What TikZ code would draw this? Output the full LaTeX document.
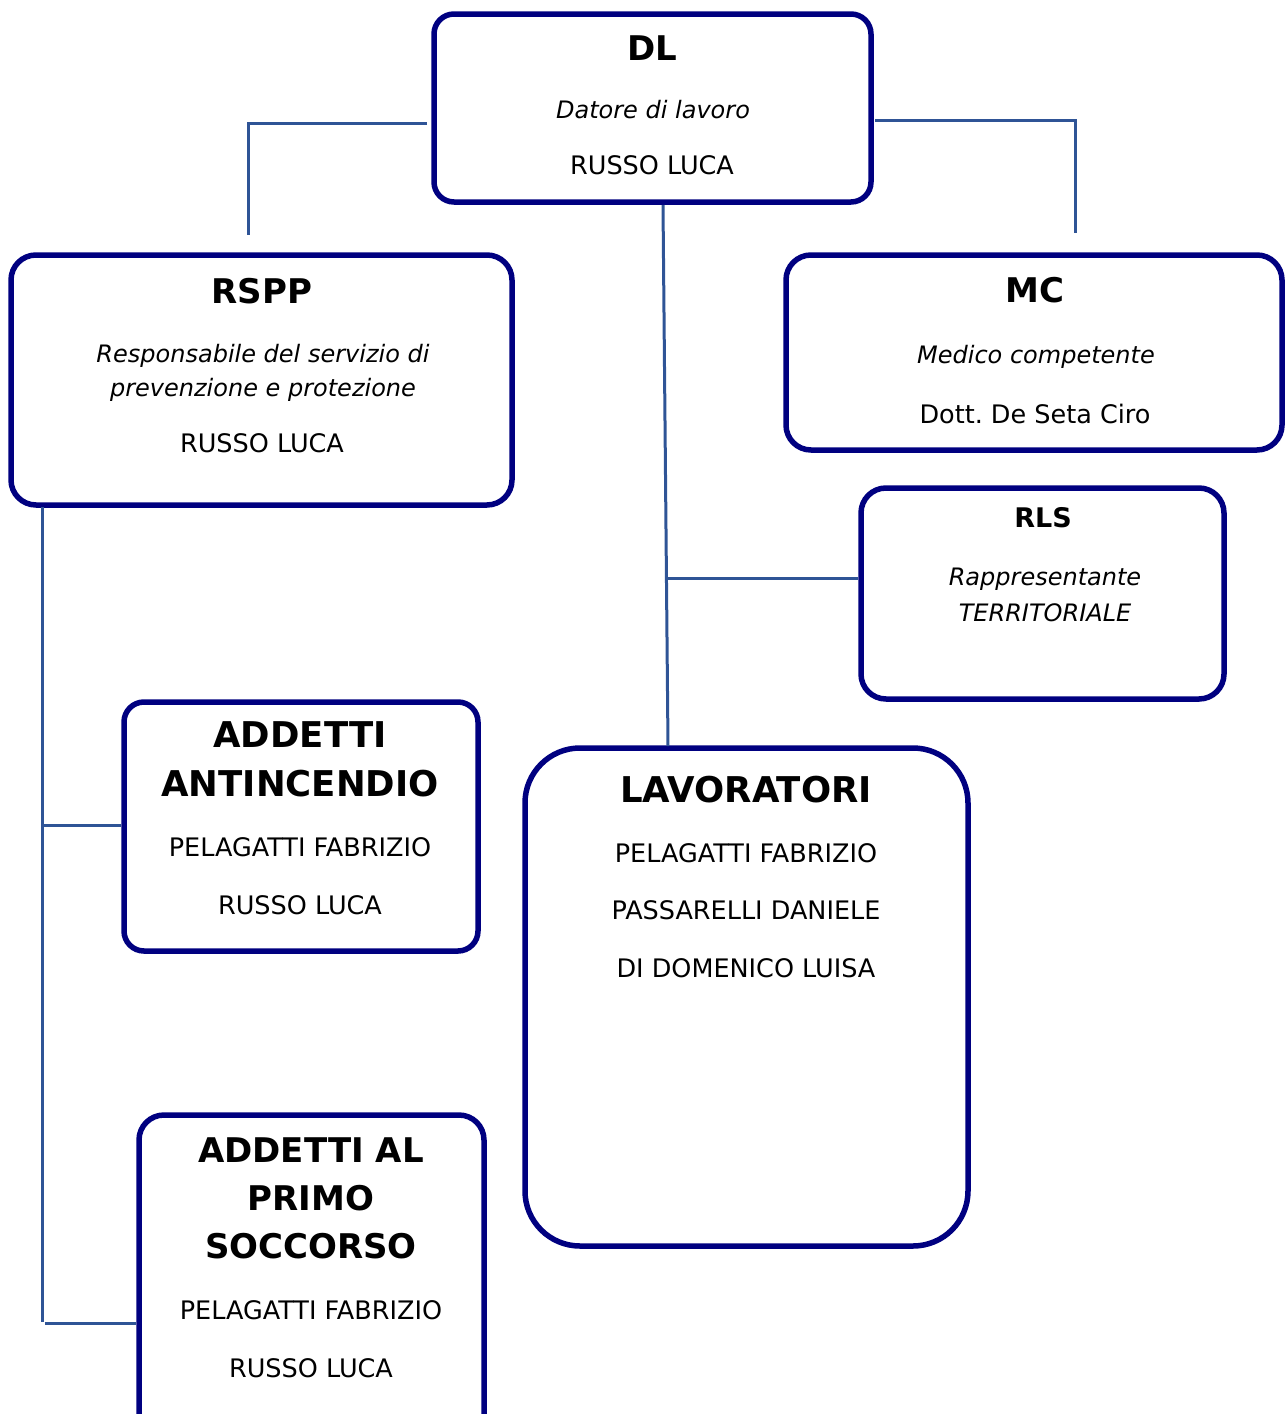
\documentclass[tikz,border=0pt]{standalone}
\usepackage{fontspec}
\setmainfont{DejaVu Sans}
\usetikzlibrary{calc}
\definecolor{boxblue}{RGB}{0,0,128}
\definecolor{linkblue}{RGB}{47,84,150}
\frenchspacing
\tikzset{
  orgbox/.style={draw=boxblue, line width=5.5pt, rounded corners=#1, fill=white, inner sep=0pt},
  orgbox/.default=22pt,
  conn/.style={draw=linkblue, line width=3pt},
  ttl/.style={anchor=base, inner sep=0pt, font=\bfseries\fontsize{34}{40}\selectfont},
  ttlwide/.style={anchor=base, inner sep=0pt, font=\bfseries\fontsize{35.5}{40}\selectfont},
  ttlsmall/.style={anchor=base, inner sep=0pt, font=\bfseries\fontsize{27}{32}\selectfont},
  txt/.style={anchor=base, inner sep=0pt, font=\fontsize{25.5}{29}\selectfont},
  itx/.style={anchor=base, inner sep=0pt, font=\itshape\fontsize{24}{29}\selectfont}
}
\begin{document}
\begin{tikzpicture}[x=1pt,y=-1pt]
\useasboundingbox (0,0) rectangle (1286,1414);
\clip (0,0) rectangle (1286,1414);

% boxes
\node[orgbox=20pt, minimum width=437pt, minimum height=188pt] (DL) at (652.5,108) {};
\node[orgbox=25pt, minimum width=501pt, minimum height=250pt] (RSPP) at (261.5,380) {};
\node[orgbox=25pt, minimum width=496pt, minimum height=195pt] (MC) at (1034,352.5) {};
\node[orgbox=25pt, minimum width=363pt, minimum height=211pt] (RLS) at (1042.5,593.5) {};
\node[orgbox=20pt, minimum width=354pt, minimum height=249pt] (AA) at (301,826.5) {};
\node[orgbox=55pt, minimum width=443pt, minimum height=498pt] (LAV) at (746.5,997) {};
\node[orgbox=25pt, minimum width=345pt, minimum height=345pt] (PS) at (311.5,1287.5) {};

% connector coordinates
\coordinate (dlL) at (427,123);
\coordinate (rsppT) at (248,235);
\coordinate (dlR) at (875,120);
\coordinate (mcT) at (1075,233);
\coordinate (dlB) at (663,205);
\coordinate (lavT) at (668,746);
\coordinate (jR) at (667,578);
\coordinate (rsppB) at (42,507);
\coordinate (rsppE) at (42,1322);
\coordinate (jA) at (42,825);
\coordinate (jP) at (45,1323);

\draw[conn] (dlL) -| (rsppT);
\draw[conn] (dlR) -| (mcT);
\draw[conn] (dlB) -- (lavT);
\draw[conn] (jR) -- (jR -| RLS.west);
\draw[conn] (rsppB) -- (rsppE);
\draw[conn] (jA) -- (jA -| AA.west);
\draw[conn] (jP) -- (jP -| PS.west);

% texts DL
\node[ttl] (t1) at (652,60) {DL};
\node[itx] (t2) at (653,118) {Datore di lavoro};
\node[txt] (t3) at (652,174) {RUSSO LUCA};
% RSPP
\node[ttl] (t4) at (262,303) {RSPP};
\node[itx] (t5) at (263,362) {Responsabile del servizio di};
\node[itx] (t6) at (263,396) {prevenzione e protezione};
\node[txt] (t7) at (262,452) {RUSSO LUCA};
% MC
\node[ttl] (t8) at (1035,302) {MC};
\node[itx] (t9) at (1036,363) {Medico competente};
\node[txt] (t10) at (1035,423) {Dott. De Seta Ciro};
% RLS
\node[ttlsmall] (t11) at (1043,527) {RLS};
\node[itx] (t12) at (1045,585) {Rappresentante};
\node[itx] (t13) at (1045,621) {TERRITORIALE};
% Addetti antincendio
\node[ttlwide] (t14) at (300,747) {ADDETTI};
\node[ttlwide] (t15) at (300,796) {ANTINCENDIO};
\node[txt] (t16) at (300,856) {PELAGATTI FABRIZIO};
\node[txt] (t17) at (300,914) {RUSSO LUCA};
% Lavoratori
\node[ttlwide] (t18) at (746,802) {LAVORATORI};
\node[txt] (t19) at (746,862) {PELAGATTI FABRIZIO};
\node[txt] (t20) at (746,919) {PASSARELLI DANIELE};
\node[txt] (t21) at (746,977) {DI DOMENICO LUISA};
% Primo soccorso
\node[ttl] (t22) at (311,1162) {ADDETTI AL};
\node[ttl] (t23) at (311,1210) {PRIMO};
\node[ttl] (t24) at (311,1258) {SOCCORSO};
\node[txt] (t25) at (311,1319) {PELAGATTI FABRIZIO};
\node[txt] (t26) at (311,1377) {RUSSO LUCA};
\end{tikzpicture}
\end{document}
